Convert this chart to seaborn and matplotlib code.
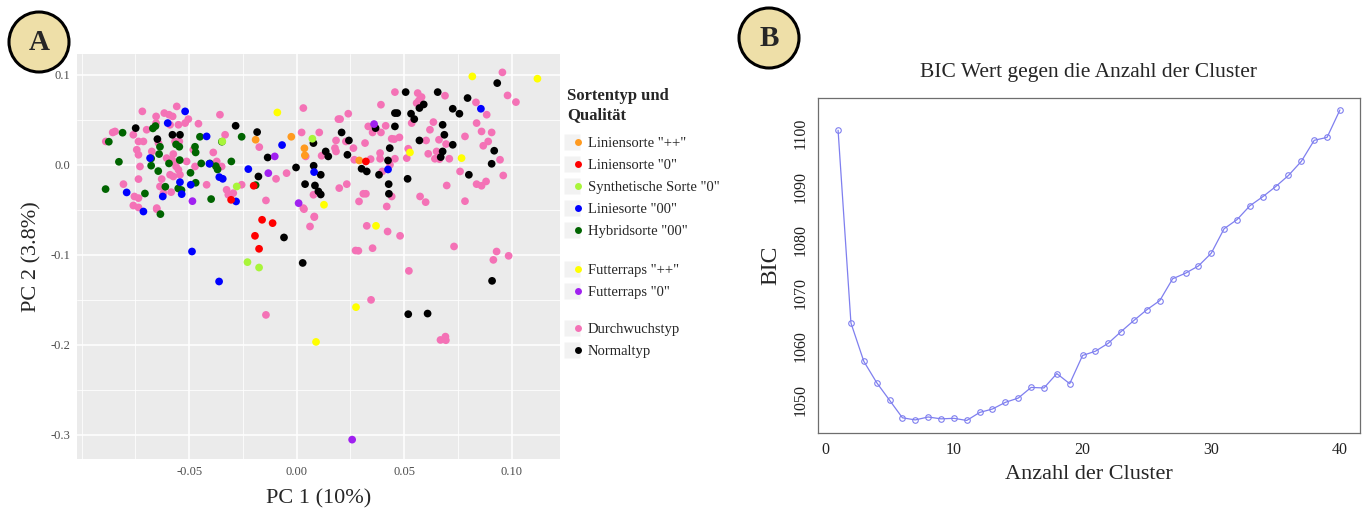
import numpy as np
import pandas as pd
import matplotlib
matplotlib.use("Agg")
import matplotlib.pyplot as plt
from matplotlib.lines import Line2D
from matplotlib.patches import Circle
from matplotlib.legend_handler import HandlerTuple
from matplotlib.ticker import MultipleLocator
import seaborn as sns

# ---- panel A: PCA scores per variety type ----
orange_x = [-0.0191, -0.0025, 0.0036, 0.0038, 0.0291]
orange_y = [0.0278, 0.0311, 0.0183, 0.0105, 0.0048]

red_x = [-0.0305, -0.0200, -0.0161, -0.0112, -0.0194, -0.0175, 0.0322]
red_y = [-0.0389, -0.0233, -0.0611, -0.0648, -0.0789, -0.0933, 0.0037]

lgreen_x = [-0.0346, -0.0279, 0.0073, -0.0229, -0.0175]
lgreen_y = [0.0259, -0.0241, 0.0289, -0.1081, -0.1141]

blue_x = [-0.0519, -0.0600, -0.0682, -0.0419, -0.0406, -0.0360, -0.0344, -0.0543, -0.0535, -0.0493,
          -0.0791, -0.0713, -0.0623, -0.0282, -0.0225, -0.0068, 0.0081, 0.0425, 0.0857, -0.0487, -0.0361]
blue_y = [0.0593, 0.0463, 0.0074, 0.0315, 0.0011, -0.0137, -0.0156, -0.0193, -0.0326, -0.0222,
          -0.0307, -0.0519, -0.0352, -0.0407, -0.0048, 0.0219, -0.0081, -0.0052, 0.0622, -0.0963, -0.1296]

dgreen_x = [-0.0889, -0.0874, -0.0827, -0.0810, -0.0706, -0.0669, -0.0657, -0.0677, -0.0677, -0.0644,
            -0.0640, -0.0636, -0.0634, -0.0611, -0.0594, -0.0561, -0.0546, -0.0544, -0.0551, -0.0536,
            -0.0494, -0.0473, -0.0470, -0.0470, -0.0450, -0.0444, -0.0404, -0.0398, -0.0376, -0.0368,
            -0.0304, -0.0348, -0.0256, -0.0191]
dgreen_y = [-0.0270, 0.0256, 0.0033, 0.0356, -0.0319, 0.0404, 0.0430, 0.0070, -0.0010, -0.0070,
            0.0119, 0.0200, -0.0548, -0.0244, 0.0015, 0.0226, 0.0200, 0.0052, -0.0263, -0.0281,
            -0.0089, 0.0200, 0.0137, -0.0200, 0.0311, 0.0015, 0.0015, -0.0381, -0.0015, -0.0052,
            0.0037, 0.0256, 0.0311, -0.0226]

yellow_x = [-0.0090, 0.0127, 0.0369, 0.0527, 0.0767, 0.0817, 0.1120, 0.0276, 0.0090]
yellow_y = [0.0581, -0.0444, -0.0678, 0.0137, 0.0074, 0.0981, 0.0956, -0.1581, -0.1967]

purple_x = [-0.0485, -0.0102, -0.0132, 0.0009, 0.0360, 0.0258]
purple_y = [-0.0404, 0.0093, -0.0093, -0.0426, 0.0452, -0.3052]

pink_x = [-0.0558, -0.0718, -0.0357, -0.0654, -0.0616, -0.0594, -0.0577, -0.0504, -0.0519, -0.0550,
          -0.0457, -0.0589, -0.0856, -0.0845, -0.0760, -0.0698, -0.0654, -0.0713, -0.0736, -0.0888,
          -0.0566, -0.0546, -0.0333, -0.0481, -0.0643, -0.0744, -0.0736, -0.0674, -0.0605, -0.0581,
          -0.0574, -0.0574, -0.0512, -0.0473, -0.0729, -0.0388, -0.0349, -0.0372, -0.0561, -0.0550,
          -0.0589, -0.0574, -0.0543, -0.0174, -0.0096, -0.0047, -0.0806, -0.0736, -0.0636, -0.0628,
          -0.0620, -0.0419, -0.0326, -0.0318, -0.0295, -0.0256, -0.0143, -0.0755, -0.0736, -0.0651,
          -0.0584, -0.0760, -0.0736, -0.0651, 0.0031, 0.0082, 0.0062, -0.0143,
          0.0031, 0.0957, 0.0981, 0.1020, 0.0457, 0.0563, 0.0581, 0.0569, 0.0558, 0.0392,
          0.0690, 0.0834, 0.0240, 0.0194, 0.0202, 0.0535, 0.0636, 0.0620, 0.0837, 0.0884,
          0.0860, 0.0907, 0.0783, 0.0891, 0.0868, 0.0946, 0.0961, 0.0333, 0.0353, 0.0392,
          0.0414, 0.0442, 0.0454, 0.0478, 0.0388, 0.0318, 0.0264, 0.0178, 0.0183, 0.0105,
          0.0023, 0.0229, 0.0183, 0.0116, 0.0042, 0.0268, 0.0344, 0.0388, 0.0457, 0.0512,
          0.0519, 0.0602, 0.0612, 0.0662, 0.0695, 0.0651, 0.0643, 0.0710, 0.0664, 0.0760,
          0.0837, 0.0860, 0.0881, 0.0698, 0.0783, 0.0574, 0.0600, 0.0419, 0.0398, 0.0434,
          0.0233, 0.0198, 0.0310, 0.0322, 0.0290, 0.0078, 0.0082, 0.0034, 0.0442,
          0.0326, 0.0423, 0.0481, 0.0274, 0.0287, 0.0353, 0.0732, 0.0930, 0.0915, 0.0986,
          0.0522, 0.0346, 0.0669, 0.0692, 0.0694]
pink_y = [0.0648, 0.0593, 0.0556, 0.0537, 0.0574, 0.0556, 0.0537, 0.0507, 0.0463, 0.0444,
          0.0456, 0.0444, 0.0359, 0.0370, 0.0333, 0.0389, 0.0463, 0.0259, 0.0259, 0.0259,
          0.0259, 0.0259, 0.0333, 0.0167, 0.0241, 0.0167, 0.0111, 0.0148, 0.0074, 0.0056,
          0.0119, 0.0037, 0.0037, -0.0019, -0.0019, 0.0137, -0.0019, 0.0037, -0.0019, -0.0056,
          -0.0111, -0.0130, -0.0111, 0.0196, -0.0156, -0.0093, -0.0215, -0.0159, -0.0241, -0.0159,
          -0.0315, -0.0222, -0.0278, -0.0333, -0.0315, -0.0222, -0.0396, -0.0352, -0.0370, -0.0481,
          -0.0304, -0.0452, -0.0474, -0.0493, -0.0481, -0.0581, -0.0685, -0.1667,
          0.0630, 0.1026, 0.0770, 0.0696, 0.0807, 0.0796, 0.0752, 0.0715, 0.0685, 0.0667,
          0.0767, 0.0693, 0.0567, 0.0507, 0.0507, 0.0463, 0.0474, 0.0389, 0.0463, 0.0556,
          0.0370, 0.0359, 0.0315, 0.0259, 0.0211, 0.0056, -0.0119, 0.0426, 0.0359, 0.0359,
          0.0433, 0.0289, 0.0285, 0.0304, 0.0130, 0.0241, 0.0185, 0.0185, 0.0270, 0.0359,
          0.0359, 0.0259, 0.0148, 0.0100, 0.0093, 0.0056, 0.0063, 0.0067, 0.0067, 0.0074,
          0.0178, 0.0270, 0.0122, 0.0278, 0.0230, 0.0148, 0.0067, 0.0067, 0.0063, -0.0074,
          -0.0215, -0.0233, -0.0185, -0.0230, -0.0404, -0.0352, -0.0415, -0.0463, -0.0074, 0.0000,
          -0.0215, -0.0259, -0.0322, -0.0322, -0.0407, -0.0333, -0.0574, -0.0493, -0.0352,
          -0.0678, -0.0741, -0.0789, -0.0952, -0.0955, -0.0926, -0.0907, -0.0963, -0.1056, -0.1011,
          -0.1178, -0.1500, -0.1945, -0.1908, -0.1948]

black_x = [-0.0749, -0.0648, -0.0578, -0.0543, -0.0284, -0.0184, -0.0135, -0.0178, -0.0003,
           0.0507, 0.0656, 0.0795, 0.0933, 0.0726, 0.0757, 0.0591, 0.0571, 0.0547, 0.0532,
           0.0457, 0.0468, 0.0457, 0.0367, 0.0209, 0.0243, 0.0571, 0.0433, 0.0679, 0.0687,
           0.0726, 0.0679, 0.0670, 0.0919, 0.0907, 0.0078, 0.0135, 0.0147, 0.0236, 0.0079,
           0.0112, 0.0039, 0.0085, 0.0112, 0.0101, 0.0302, 0.0326, 0.0383, 0.0425, 0.0428,
           0.0429, 0.0516, 0.0801, -0.0059, 0.0028, 0.0909, 0.0519, 0.0609]
black_y = [0.0407, 0.0285, 0.0333, 0.0333, 0.0433, 0.0363, 0.0081, -0.0130, -0.0030,
           0.0807, 0.0807, 0.0741, 0.0907, 0.0622, 0.0567, 0.0670, 0.0630, 0.0507, 0.0567,
           0.0574, 0.0574, 0.0426, 0.0407, 0.0359, 0.0270, 0.0270, 0.0185, 0.0444, 0.0333,
           0.0222, 0.0148, 0.0085, 0.0156, 0.0011, 0.0241, 0.0148, 0.0093, 0.0111, -0.0011,
           -0.0111, -0.0215, -0.0230, -0.0330, -0.0296, -0.0044, -0.0074, -0.0111, 0.0048, -0.0215,
           -0.0322, -0.0156, -0.0111, -0.0807, -0.1090, -0.1289, -0.1659, -0.1652]

group_labels = ['Liniensorte "++"', 'Liniensorte "0"', 'Synthetische Sorte "0"', 'Liniesorte "00"',
                'Hybridsorte "00"', 'Futterraps "++"', 'Futterraps "0"', 'Durchwuchstyp', 'Normaltyp']
group_colors = ['#FF9A1F', '#FF0000', '#A8F53A', '#0000FF', '#006400', '#FFFF00', '#A020F0',
                '#F472B6', '#000000']
group_data = [(orange_x, orange_y), (red_x, red_y), (lgreen_x, lgreen_y), (blue_x, blue_y),
              (dgreen_x, dgreen_y), (yellow_x, yellow_y), (purple_x, purple_y),
              (pink_x, pink_y), (black_x, black_y)]

# ---- panel B: BIC vs number of clusters ----
n_cluster = list(range(1, 41))
bic = [1100.6, 1064.4, 1057.2, 1053.2, 1049.9, 1046.6, 1046.2, 1046.75, 1046.4, 1046.5,
       1046.1, 1047.6, 1048.25, 1049.5, 1050.3, 1052.3, 1052.2, 1054.9, 1053.0, 1058.3,
       1059.1, 1060.6, 1062.8, 1064.9, 1066.9, 1068.6, 1072.7, 1073.75, 1075.1, 1077.5,
       1082.1, 1083.8, 1086.4, 1088.1, 1090.0, 1092.1, 1094.75, 1098.7, 1099.25, 1104.4]

rows = []
for lab, (xs, ys) in zip(group_labels, group_data):
    for x, y in zip(xs, ys):
        rows.append((lab, x, y))
df = pd.DataFrame(rows, columns=["typ", "pc1", "pc2"])
# pink first, then black, then the rest on top
draw_order = ['Durchwuchstyp', 'Normaltyp', 'Hybridsorte "00"', 'Liniesorte "00"', 'Liniensorte "++"',
              'Liniensorte "0"', 'Synthetische Sorte "0"', 'Futterraps "++"', 'Futterraps "0"']
df["rank"] = df["typ"].map({k: i for i, k in enumerate(draw_order)})
df = df.sort_values("rank", kind="stable")
palette = dict(zip(group_labels, group_colors))

sns.set_style("white")
serif = ["Liberation Serif", "DejaVu Serif"]
plt.rcParams["font.family"] = serif

fig = plt.figure(figsize=(13.66, 5.16), dpi=100)

# ---------------- panel A ----------------
axA = fig.add_axes([77 / 1366, 57 / 516, 483 / 1366, 405 / 516])
axA.set_facecolor("#EBEBEB")
axA.set_axisbelow(True)
sns.scatterplot(data=df, x="pc1", y="pc2", hue="typ", palette=palette, s=31,
                linewidth=0, legend=False, ax=axA, zorder=3)
axA.set_xlim(-0.1022, 0.1225)
axA.set_ylim(-0.3267, 0.1230)
axA.xaxis.set_major_locator(MultipleLocator(0.05))
axA.yaxis.set_major_locator(MultipleLocator(0.1))
axA.xaxis.set_minor_locator(MultipleLocator(0.025))
axA.yaxis.set_minor_locator(MultipleLocator(0.05))
axA.grid(which="major", color="white", lw=1.1)
axA.grid(which="minor", color="white", lw=0.55)
axA.tick_params(which="minor", length=0)
axA.tick_params(which="major", length=3, width=0.8, color="#333333", labelcolor="#4D4D4D",
                labelsize=9, pad=2)
axA.set_xticks([-0.05, 0.0, 0.05, 0.10])
axA.set_xticklabels(["-0.05", "0.00", "0.05", "0.10"])
axA.set_yticks([-0.3, -0.2, -0.1, 0.0, 0.1])
axA.set_yticklabels(["-0.3", "-0.2", "-0.1", "0.0", "0.1"])
for sp in axA.spines.values():
    sp.set_visible(False)
axA.set_xlabel("PC 1 (10%)", fontsize=16, labelpad=8)
axA.set_ylabel("PC 2 (3.8%)", fontsize=16, labelpad=6)

# legend
fig.text(567 / 1366, 1 - 88 / 516, "Sortentyp und\nQualität", fontsize=12, fontweight="bold",
         ha="left", va="top", linespacing=1.25)


def make_handles(idx):
    hs = []
    for i in idx:
        sq = Line2D([], [], ls="", marker="s", ms=11.5, mfc="#F2F2F2", mec="none")
        dot = Line2D([], [], ls="", marker="o", ms=5, mfc=group_colors[i], mec="none")
        hs.append((sq, dot))
    return hs, [group_labels[i] for i in idx]


for idx, top in [([0, 1, 2, 3, 4], 137), ([5, 6], 264), ([7, 8], 323)]:
    hs, labs = make_handles(idx)
    fig.legend(hs, labs, loc="upper left", bbox_to_anchor=(569 / 1366, 1 - top / 516),
               frameon=False, fontsize=10.5, handlelength=0.8, handletextpad=0.5,
               labelspacing=0.6, borderpad=0, borderaxespad=0,
               handler_map={tuple: HandlerTuple(ndivide=None, pad=0)})

# ---------------- panel B ----------------
axB = fig.add_axes([818 / 1366, 83.3 / 516, 542 / 1366, 335 / 516])
axB.set_facecolor("white")
sns.lineplot(x=n_cluster, y=bic, ax=axB, color="#7F7FEF", lw=0.9, marker="o", ms=4,
             mfc="none", mec="#7F7FEF", mew=0.8)
axB.set_xlim(-0.56, 41.56)
axB.set_ylim(1043.8, 1106.7)
axB.set_xticks([0, 10, 20, 30, 40])
axB.set_yticks([1050, 1060, 1070, 1080, 1090, 1100])
axB.tick_params(axis="both", direction="out", length=5, width=0.8, color="#555555",
                labelsize=11.5, labelcolor="#222222", pad=2)
axB.tick_params(axis="y", labelrotation=90)
for lab in axB.get_yticklabels():
    lab.set_va("center")
for sp in axB.spines.values():
    sp.set_visible(True)
    sp.set_color("#6E6E6E")
    sp.set_linewidth(0.9)
axB.grid(False)
axB.set_xlabel("Anzahl der Cluster", fontsize=16, labelpad=5)
axB.set_ylabel("BIC", fontsize=17, labelpad=8)
axB.set_title("BIC Wert gegen die Anzahl der Cluster", fontsize=15.5, pad=15)

# panel badges
for cx, cy, letter in [(39, 42, "A"), (769, 38, "B")]:
    c = Circle((cx / 100, (516 - cy) / 100), 0.30, transform=fig.dpi_scale_trans,
               facecolor="#EEDFA8", edgecolor="black", lw=2.2)
    fig.add_artist(c)
    fig.text(cx / 1366, 1 - cy / 516, letter, fontsize=21, fontweight="bold",
             ha="center", va="center")

fig.savefig("out.png", dpi=100)
